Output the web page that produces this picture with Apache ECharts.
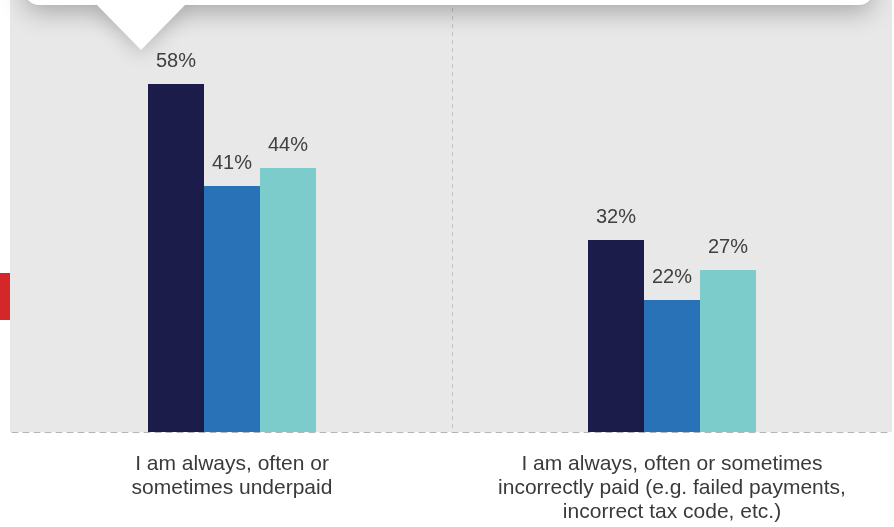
<!DOCTYPE html>
<html>
<head>
<meta charset="utf-8">
<script src="https://cdn.jsdelivr.net/npm/echarts@6/dist/echarts.min.js"></script>
<style>
html,body{margin:0;padding:0;background:#fff;}
#main{width:894px;height:527px;}
</style>
</head>
<body>
<div id="main"></div>
<script>
var categories = ['I am always, often or\nsometimes underpaid', 'I am always, often or sometimes\nincorrectly paid (e.g. failed payments,\nincorrect tax code, etc.)'];
var seriesA = [58, 32];
var seriesB = [41, 22];
var seriesC = [44, 27];
var colors = ['#1c1c4b', '#2a72b8', '#7ccccc'];

var chart = echarts.init(document.getElementById('main'));
var FONT = 'Liberation Sans, Arial, sans-serif';
var labelCfg = {
  show: true, position: 'top', distance: 13,
  formatter: '{c}%', color: '#404040', fontSize: 20, fontFamily: FONT
};
function mk(name, data, color) {
  return {
    name: name, type: 'bar', data: data, barWidth: 56, barGap: '0%',
    itemStyle: { color: color }, label: labelCfg, silent: true
  };
}
chart.setOption({
  animation: false,
  grid: { left: 12, right: 2, top: 0, bottom: 95, show: true, backgroundColor: '#e8e8e8', borderWidth: 0 },
  xAxis: {
    type: 'category', data: categories,
    axisLine: { show: true, lineStyle: { color: '#b5b5b5', type: [6, 5], width: 1 } },
    axisTick: { show: false },
    axisLabel: { color: '#3a3a3a', fontSize: 21, lineHeight: 24, margin: 20, interval: 0, fontFamily: FONT },
    splitLine: { show: true, showMinLine: false, showMaxLine: false, lineStyle: { color: '#c4c4c4', type: [4, 4], width: 1 } }
  },
  yAxis: { type: 'value', min: 0, max: 72, show: false, splitLine: { show: false } },
  series: [mk('A', seriesA, colors[0]), mk('B', seriesB, colors[1]), mk('C', seriesC, colors[2])],
  graphic: [
    { type: 'rect', left: 10, top: 0, shape: { width: 2, height: 432 }, style: { fill: '#e8e8e8' }, z: -1 },
    { type: 'rect', left: 0, top: 273, shape: { width: 10, height: 47 }, style: { fill: '#d5272a' }, z: 10 },
    { type: 'rect', z: 100, shape: { x: 25, y: -30, width: 848, height: 35, r: 14 },
      style: { fill: '#ffffff', shadowBlur: 26, shadowColor: 'rgba(0,0,0,0.3)', shadowOffsetY: 6 } },
    { type: 'polygon', z: 101, shape: { points: [[96, 4], [186, 4], [141, 50]] },
      style: { fill: '#ffffff', shadowBlur: 20, shadowColor: 'rgba(0,0,0,0.2)', shadowOffsetY: 4 } },
    { type: 'rect', z: 102, shape: { x: 60, y: -30, width: 160, height: 34 }, style: { fill: '#ffffff' } }
  ]
});
</script>
</body>
</html>
